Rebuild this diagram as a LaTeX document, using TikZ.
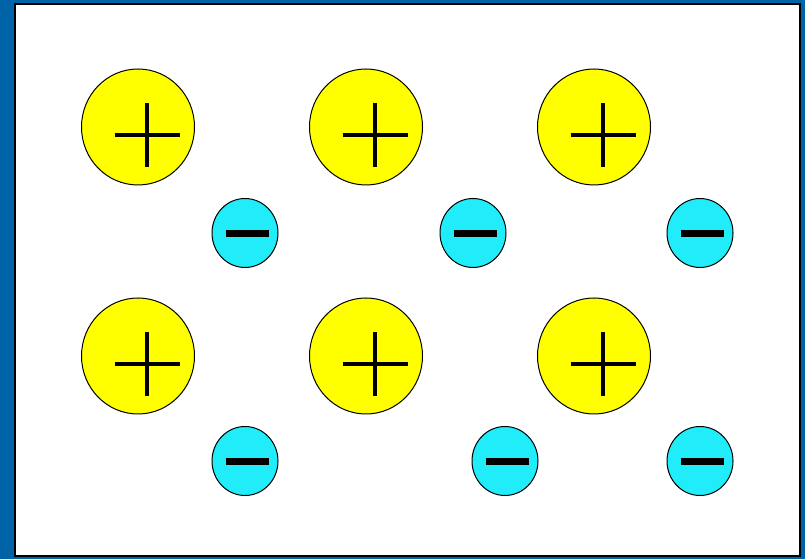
\documentclass[tikz,border=0pt]{standalone}
\usepackage{tikz}
\usetikzlibrary{calc}
\definecolor{FrameBlue}{RGB}{0,99,168}
\definecolor{IonYellow}{RGB}{255,255,0}
\definecolor{IonCyan}{RGB}{32,236,250}

\begin{document}
\begin{tikzpicture}[x=1pt,y=1pt,
    cation/.style={draw=black,fill=IonYellow,line width=1pt},
    anion/.style={draw=black,fill=IonCyan,line width=1pt},
    plusbar/.style={line width=4pt,black},
    minusbar/.style={line width=7pt,black}]
  \fill[FrameBlue] (0,0) rectangle (805,559);
  \draw[fill=white,line width=1.5pt] (15,3) rectangle (800,555);
  % yellow ions (+)
  \foreach \cx/\cy in {138/432,366/432,594/432,138/203,366/203,594/203}{
    \coordinate (C) at (\cx,\cy);
    \draw[cation] (C) ellipse [x radius=56.5,y radius=58];
    \draw[plusbar] ($(C)+(9-32.5,-8)$)--($(C)+(9+32.5,-8)$);
    \draw[plusbar] ($(C)+(9,-8-32)$)--($(C)+(9,-8+32)$);
  }
  % cyan ions (-)
  \foreach \ax/\ay in {245/326,473/326,700/326,245/98,505/98,700/98}{
    \coordinate (A) at (\ax,\ay);
    \draw[anion] (A) ellipse [x radius=33,y radius=34.5];
    \draw[minusbar] ($(A)+(2-21.5,-1)$)--($(A)+(2+21.5,-1)$);
  }
\end{tikzpicture}
\end{document}
